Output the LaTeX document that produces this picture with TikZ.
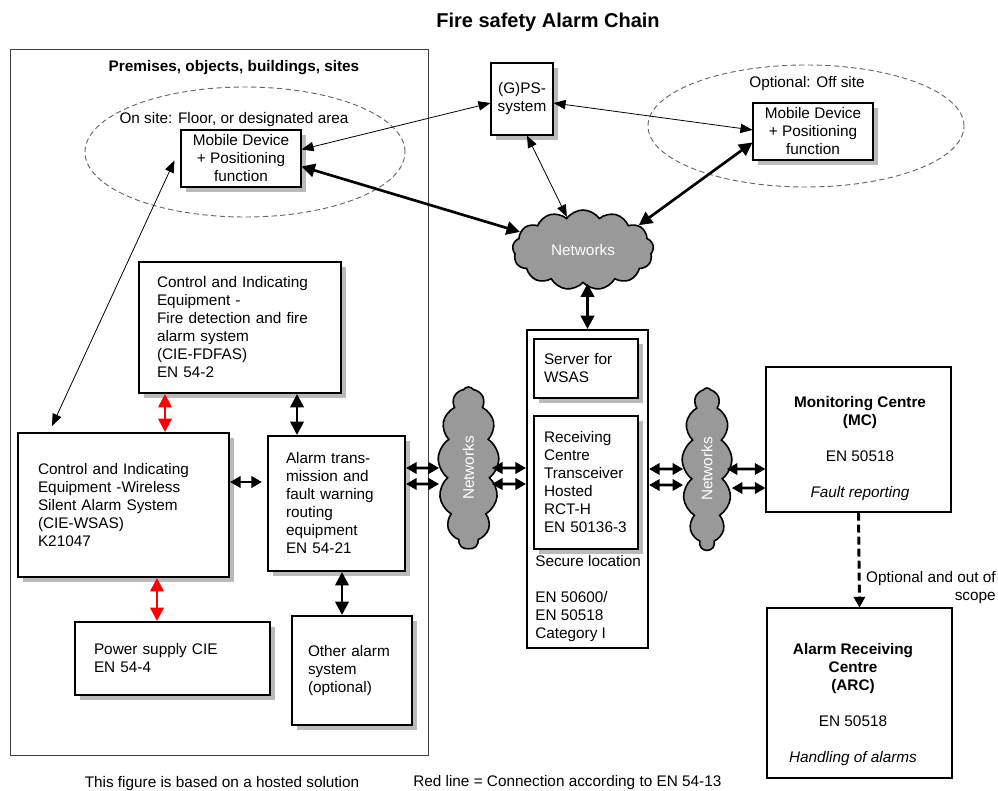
\documentclass[tikz,border=0pt]{standalone}
\usepackage{fontspec}
\setmainfont{Liberation Sans}
\usepackage{tikz}
\usetikzlibrary{positioning,shapes.geometric,shapes.symbols,shadows,arrows.meta,calc}

\begin{document}
\begin{tikzpicture}[%
    x=0.75pt,
    y=-0.75pt,
    every node/.style={font=\fontsize{11.5}{13.5}\selectfont, inner sep=0pt},
    unit/.style={%
      rectangle,
      draw,
      line width=1.5pt,
      fill=white,
      align=left,
      drop shadow={fill=black!45, opacity=0.6, shadow xshift=3.5pt, shadow yshift=-3.5pt}
    },
    device/.style={%
      unit,
      line width=0.8pt,
      align=center
    },
    centre/.style={%
      rectangle,
      draw,
      line width=0.8pt,
      minimum width=138.75pt
    },
    zone/.style={%
      ellipse,
      draw=black!60,
      line width=0.7pt,
      dash pattern=on 4pt off 2.5pt
    },
    net/.style={%
      cloud,
      cloud puffs=13,
      cloud puff arc=110,
      draw,
      line width=1.2pt,
      fill=black!40,
      text=white
    },
    link/.style={arrows={Triangle[length=9pt,width=7pt]-Triangle[length=9pt,width=7pt]}, line width=0.6pt},
    trunk/.style={arrows={Triangle[length=10pt,width=10pt]-Triangle[length=10pt,width=10pt]}, line width=2pt},
    pair/.style={arrows={Triangle[length=8pt,width=8.5pt]-Triangle[length=8pt,width=8.5pt]}, line width=2pt},
    redlink/.style={trunk, red}
  ]
    \useasboundingbox (0,0) rectangle (998,791);
    \node (title) [font=\bfseries\fontsize{15}{18}\selectfont] at (548,22) {Fire safety Alarm Chain};

    % premises
    \node[draw=black!75, line width=0.6pt, minimum width=313.5pt, minimum height=529.5pt] (premises) at (219,402) {};
    \node (premlabel) [font=\bfseries\fontsize{11.5}{13.5}\selectfont] at (234,68) {Premises, objects, buildings, sites};
    \node[zone, minimum width=240pt, minimum height=97.5pt] (onsite) at (245,152) {};
    \node (onsitelabel) at (234,120) {On site: Floor, or designated area};
    \node[device, minimum width=90pt, minimum height=42.75pt] (mobin) at (241,158.5) {Mobile Device\\+ Positioning\\function};

    % positioning and off site
    \node[device, minimum width=46.5pt, minimum height=54pt] (gps) at (522,99) {(G)PS-\\system};
    \node[zone, minimum width=237pt, minimum height=91.5pt] (offsite) at (806,126) {};
    \node (offsitelabel) at (807,84) {Optional: Off site};
    \node[device, minimum width=90pt, minimum height=42.75pt] (mobout) at (813,131.5) {Mobile Device\\+ Positioning\\function};
    \node[net, minimum width=105.75pt, minimum height=60pt, aspect=1.76] (nettop) at (583,250) {Networks};

    \node[unit, minimum height=98.25pt, text width=124.5pt, inner xsep=13.5pt] (fdfas) at (240,327.5) {Control and Indicating\\Equipment -\\Fire detection and fire\\alarm system\\(CIE-FDFAS)\\EN 54-2};
    \node[unit, minimum height=108pt, text width=128.25pt, inner xsep=15pt] (wsas) at (123.5,505) {Control and Indicating\\Equipment -Wireless\\Silent Alarm System\\(CIE-WSAS)\\K21047};
    \node[unit, minimum height=101.25pt, text width=75.75pt, inner xsep=13.5pt] (trans) at (336.5,503.5) {Alarm trans-\\mission and\\fault warning\\routing\\equipment\\EN 54-21};
    \node[unit, minimum height=54.75pt, text width=117.75pt, inner xsep=14.25pt] (power) at (172.5,658.5) {Power supply CIE\\EN 54-4};
    \node[unit, minimum height=81.75pt, text width=66pt, inner xsep=12pt] (other) at (352,670.5) {Other alarm\\system\\(optional)};

    % secure location
    \node[draw, line width=1.5pt, minimum width=90.75pt, minimum height=238.5pt] (secure) at (587.5,489) {};
    \node[unit, minimum height=44.25pt, text width=63pt, inner xsep=7.5pt] (server) at (586,368.5) {Server for\\WSAS};
    \node[unit, minimum height=99.75pt, text width=63pt, inner xsep=7.5pt] (rct) at (586,482.5) {Receiving\\Centre\\Transceiver\\Hosted\\RCT-H\\EN 50136-3};
    \node[anchor=west, align=left] (securetxt) at (535,599) {Secure location\\[13.5pt]EN 50600/\\EN 50518\\Category I};

    \node[net, minimum width=45.75pt, minimum height=121.5pt, aspect=0.38] (netL) at (468.5,468) {\rotatebox{90}{Networks}};
    \node[net, minimum width=37.5pt, minimum height=121.5pt, aspect=0.31] (netR) at (707,469) {\rotatebox{90}{Networks}};

    % centres
    \node[centre, minimum height=108.75pt] (mc) at (858.5,439.5) {};
    \node[align=center] (mctxt) at (860,449) {\textbf{Monitoring Centre}\\\textbf{(MC)}\\[13.5pt]EN 50518\\[13.5pt]\textit{Fault reporting}};
    \node[centre, minimum height=127.5pt] (arc) at (859.5,693) {};
    \node[align=center] (arctxt) at (853,705) {\textbf{Alarm Receiving}\\\textbf{Centre}\\\textbf{(ARC)}\\[13.5pt]EN 50518\\[13.5pt]\textit{Handling of alarms}};
    \node[align=right, anchor=east] (scopelabel) at (996,588) {Optional and out of\\scope};

    \node (hostnote) at (222,784) {This figure is based on a hosted solution};
    \node[anchor=west] (rednote) at (413,783) {Red line = Connection according to EN 54-13};

    % connections
    \draw[link] ($(mobin.east)+(0,-9)$) -- ($(gps.west)+(0,4)$);
    \draw[trunk] ($(mobin.east)+(0,8)$) -- (nettop.164);
    \draw[link] ($(gps.east)+(0,4)$) -- ($(mobout.west)+(0,-1.5)$);
    \draw[link] ($(gps.south)+(5,0)$) -- (nettop.116);
    \draw[trunk] ($(mobout.west)+(0,11)$) -- (nettop.24);
    \draw[trunk] (secure.north |- nettop.south) -- (secure.north);
    \draw[link] ($(mobin.west)+(-6,2)$) -- ($(wsas.north west)+(35,-6)$);

    \draw[redlink] ($(fdfas.south west)+(27,0)$) -- ($(wsas.north west)+(148,0)$);
    \draw[trunk] ($(fdfas.south west)+(159,0)$) -- ($(trans.north west)+(30,0)$);
    \draw[pair] ($(wsas.east)+(0,-23)$) -- ($(trans.west)+(-5,-21.5)$);
    \draw[redlink] ($(wsas.south west)+(140,0)$) -- ($(power.north west)+(83,0)$);
    \draw[trunk] ($(trans.south west)+(75,0)$) -- ($(other.north west)+(51,0)$);

    \foreach \dy in {0,16} {
      \draw[pair] ($(trans.east)+(0,-35.5+\dy)$) -- ($(netL.west)+(0,\dy)$);
      \draw[pair] ($(netL.east)+(-6,\dy)$) -- ($(secure.west)+(0,-21+\dy)$);
      \draw[pair] ($(secure.east)+(0,-20+\dy)$) -- ($(netR.west)+(0,\dy)$);
    }
    \draw[pair] ($(netR.east)+(-4,0)$) -- ($(mc.west)+(0,29.5)$);
    \draw[pair] ($(netR.east)+(1,19)$) -- ($(mc.west)+(0,48.5)$);
    \draw[-{Triangle[length=8pt,width=8.5pt]}, line width=2.2pt, dash pattern=on 6pt off 3pt] (mc.south) -- (arc.north);
  \end{tikzpicture}
\end{document}
